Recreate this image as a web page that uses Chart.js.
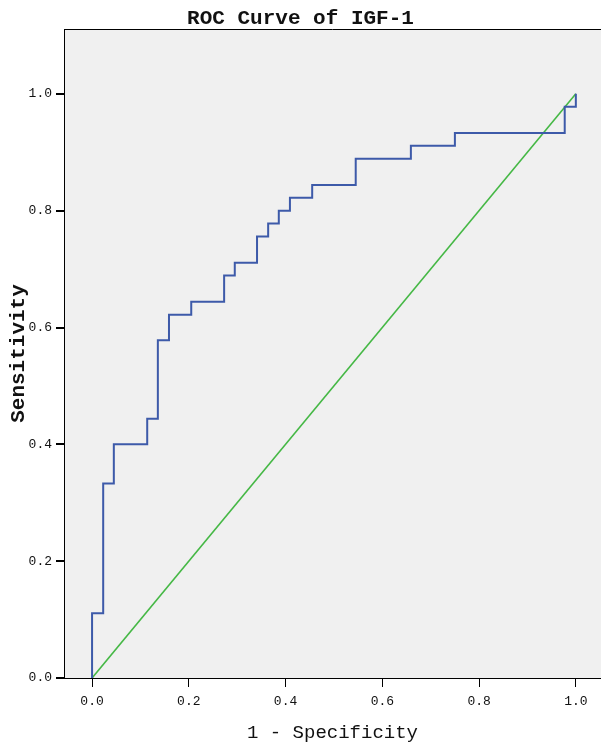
<!DOCTYPE html>
<html>
<head>
<meta charset="utf-8">
<script src="https://cdn.jsdelivr.net/npm/chart.js@4/dist/chart.umd.min.js"></script>
<style>
    html, body { margin: 0; padding: 0; background: #ffffff; }
    #wrap { width: 601px; height: 746px; }
</style>
</head>
<body>
<div id="wrap"><canvas id="grafica"></canvas></div>
<script>
// puntos de la curva ROC (1 - especificidad, sensibilidad)
const falsosPositivos = [0, 0, 0.023, 0.045, 0.114, 0.136, 0.159, 0.205, 0.273, 0.295, 0.341, 0.364, 0.386, 0.409, 0.455, 0.545, 0.659, 0.75, 0.977, 1];
const sensibilidad = [0, 0.111, 0.333, 0.4, 0.444, 0.578, 0.622, 0.644, 0.689, 0.711, 0.756, 0.778, 0.8, 0.822, 0.844, 0.889, 0.911, 0.933, 0.978, 1];
const referenciaX = [0, 1];
const referenciaY = [0, 1];
const ticksEje = [0, 0.2, 0.4, 0.6, 0.8, 1.0];

const colores = {
    curva: "#3d5aa9",
    referencia: "#45b845",
    fondoPanel: "#f0f0f0",
    texto: "#111111"
};
const fuente = "'Liberation Mono', 'Courier New', monospace";

// fondo gris del area y borde superior
const fondoPanel = {
    id: "fondoPanel",
    beforeDraw(chart) {
        const { ctx, chartArea } = chart;
        ctx.save();
        ctx.fillStyle = colores.fondoPanel;
        ctx.fillRect(chartArea.left, chartArea.top, chartArea.right - chartArea.left, chartArea.bottom - chartArea.top);
        ctx.strokeStyle = "#000";
        ctx.lineWidth = 1;
        ctx.beginPath();
        ctx.moveTo(chartArea.left, chartArea.top + 0.5);
        ctx.lineTo(chartArea.right, chartArea.top + 0.5);
        ctx.stroke();
        ctx.restore();
    }
};

new Chart(document.getElementById("grafica"), {
    type: "line",
    data: {
        datasets: [{
            label: "ROC",
            data: falsosPositivos.map((x, i) => ({ x, y: sensibilidad[i] })),
            borderColor: colores.curva,
            borderWidth: 2,
            stepped: "before",
            pointRadius: 0,
            fill: false
        }, {
            label: "Referencia",
            data: referenciaX.map((x, i) => ({ x, y: referenciaY[i] })),
            borderColor: colores.referencia,
            borderWidth: 1.6,
            pointRadius: 0,
            fill: false
        }]
    },
    options: {
        responsive: true,
        maintainAspectRatio: false,
        animation: false,
        layout: { padding: 0 },
        plugins: {
            legend: { display: false },
            tooltip: { enabled: false },
            title: {
                display: true,
                text: "ROC Curve of IGF-1",
                color: colores.texto,
                font: { family: fuente, size: 21, weight: "bold", lineHeight: 1 },
                padding: { top: 8, bottom: 0 }
            }
        },
        scales: {
            x: {
                type: "linear",
                min: -0.058,
                max: 1.052,
                afterBuildTicks: scale => { scale.ticks = ticksEje.map(v => ({ value: v })); },
                afterFit: scale => { scale.height = 68; },
                ticks: {
                    color: colores.texto,
                    font: { family: fuente, size: 13 },
                    padding: 7,
                    maxRotation: 0,
                    callback: v => Number(v).toFixed(1)
                },
                grid: { drawOnChartArea: false, drawTicks: true, tickLength: 9, color: "#000", lineWidth: 1 },
                border: { display: true, color: "#000", width: 1 },
                title: {
                    display: true,
                    text: "1 - Specificity",
                    color: colores.texto,
                    font: { family: fuente, size: 19 },
                    padding: { top: 0, bottom: 2 }
                }
            },
            y: {
                type: "linear",
                min: 0,
                max: 1.111,
                afterBuildTicks: scale => { scale.ticks = ticksEje.map(v => ({ value: v })); },
                afterFit: scale => { scale.width = 64; },
                ticks: {
                    color: colores.texto,
                    font: { family: fuente, size: 13 },
                    padding: 4,
                    callback: v => Number(v).toFixed(1)
                },
                grid: { drawOnChartArea: false, drawTicks: true, tickLength: 8, color: "#000", lineWidth: 2 },
                border: { display: true, color: "#000", width: 1 },
                title: {
                    display: true,
                    text: "Sensitivity",
                    color: colores.texto,
                    font: { family: fuente, size: 21, weight: "bold" },
                    padding: { top: 6, bottom: 0 }
                }
            }
        }
    },
    plugins: [fondoPanel]
});
</script>
</body>
</html>
